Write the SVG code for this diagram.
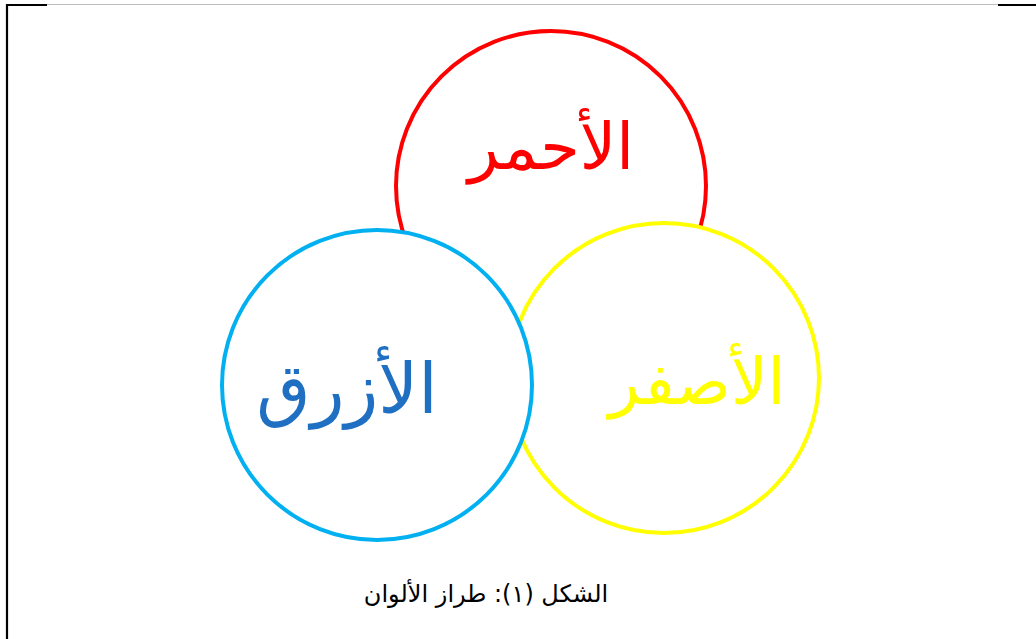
<svg xmlns="http://www.w3.org/2000/svg" width="1036" height="639" viewBox="0 0 1036 639">
<style>
.c{fill:#fff;stroke-width:4}
.lbl{font-family:"DejaVu Sans",sans-serif;font-size:64px;text-anchor:middle;direction:rtl}
.cap{font-family:"DejaVu Sans",sans-serif;font-size:24px;text-anchor:middle;direction:rtl;fill:#000}
</style>
<rect width="1036" height="639" fill="#fff"/>
<g id="frame">
<line x1="47" y1="4.5" x2="998" y2="4.5" stroke="#bdbdbd" stroke-width="1.2"/>
<path d="M7 639V5H47M998 5H1036" fill="none" stroke="#000" stroke-width="2.2"/>
</g>
<g id="red">
<circle class="c" cx="551" cy="186" r="155" stroke="#ff0000"/>
<text class="lbl" x="551" y="169" fill="#ff0000">الأحمر</text>
</g>
<g id="yellow">
<circle class="c" cx="664" cy="378" r="155" stroke="#ffff00"/>
<text class="lbl" x="697" y="404" fill="#ffff00">الأصفر</text>
</g>
<g id="blue">
<circle class="c" cx="377" cy="385" r="155" stroke="#00b0f0"/>
<text class="lbl" x="347" y="413" fill="#1f6fc2" style="font-size:70px">الأزرق</text>
</g>
<g id="caption">
<text class="cap" x="486" y="602">الشكل (١): طراز الألوان</text>
</g>
</svg>
